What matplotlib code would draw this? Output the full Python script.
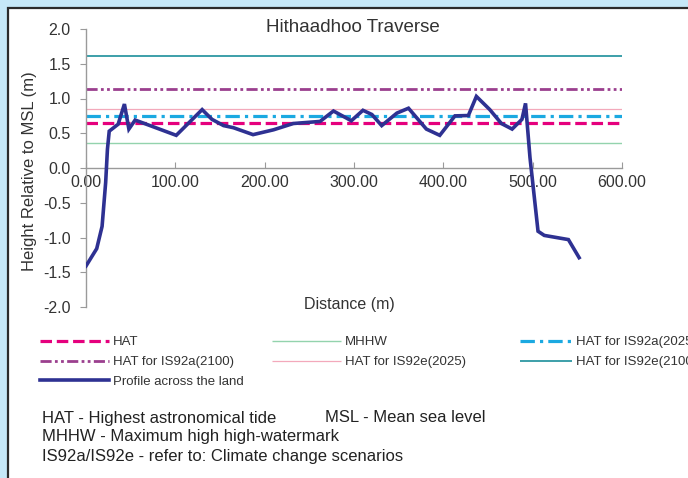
import matplotlib
matplotlib.use("Agg")
import matplotlib.pyplot as plt
from matplotlib.patches import Rectangle

plt.rcParams['font.family'] = ['Liberation Sans', 'DejaVu Sans']
plt.rcParams['axes.unicode_minus'] = False

# ---------------- data ----------------
distance = [0, 12, 18, 22, 24, 26, 36, 43, 48, 55, 101, 130, 141, 154, 165, 187,
            210, 232, 262, 277, 297, 310, 320, 331, 348, 361, 381, 396, 413, 428,
            437, 452, 465, 477, 488, 492, 497, 506, 513, 540, 552]
height = [-1.41, -1.16, -0.84, -0.21, 0.27, 0.53, 0.63, 0.92, 0.56, 0.69, 0.47,
          0.84, 0.70, 0.61, 0.58, 0.48, 0.55, 0.64, 0.67, 0.82, 0.68, 0.83, 0.77,
          0.61, 0.79, 0.86, 0.56, 0.47, 0.75, 0.755, 1.03, 0.84, 0.64, 0.56,
          0.70, 0.93, 0.15, -0.91, -0.97, -1.03, -1.29]

level_names = ["HAT", "MHHW", "HAT for IS92a(2025)", "HAT for IS92a(2100)",
               "HAT for IS92e(2025)", "HAT for IS92e(2100)"]
level_values = [0.65, 0.36, 0.745, 1.13, 0.855, 1.61]
level_span = [0, 600]

x_ticks = [0, 100, 200, 300, 400, 500, 600]
y_ticks = [-2.0, -1.5, -1.0, -0.5, 0.0, 0.5, 1.0, 1.5, 2.0]

notes = ["HAT - Highest astronomical tide", "MSL - Mean sea level",
         "MHHW - Maximum high high-watermark",
         "IS92a/IS92e - refer to: Climate change scenarios"]

# ---------------- styles ----------------
styles = {
    "HAT": dict(color="#e5007d", lw=2.3, dashes=(3.6, 1.5)),
    "MHHW": dict(color="#93d3ad", lw=1.0),
    "HAT for IS92a(2025)": dict(color="#1ba9e1", lw=2.3, dashes=(4.5, 1.6, 1.0, 1.6)),
    "HAT for IS92a(2100)": dict(color="#9b3f8e", lw=2.0, dashes=(4.0, 1.2, 1.0, 1.2, 1.0, 1.2)),
    "HAT for IS92e(2025)": dict(color="#f3a9bb", lw=0.9),
    "HAT for IS92e(2100)": dict(color="#3c9fa9", lw=1.4),
}

W, H = 688, 478
fig = plt.figure(figsize=(W / 100, H / 100), dpi=100, facecolor="#c6e8f8")

# white panel with dark border
fig.add_artist(Rectangle((7.5 / W, -0.01), 1.0, 1 - 7.5 / H + 0.01, transform=fig.transFigure,
                         facecolor="white", edgecolor="#2b2b2b", lw=1.6, zorder=0))

ax = fig.add_axes([86 / W, 1 - 307 / H, (622 - 86) / W, (307 - 29) / H])
ax.set_facecolor("none")

handles = {}
for name, val in zip(level_names, level_values):
    st = dict(styles[name])
    d = st.pop("dashes", None)
    ln, = ax.plot(level_span, [val, val], label=name, solid_capstyle="butt", **st)
    if d is not None:
        ln.set_dashes(d)
    handles[name] = ln

prof, = ax.plot(distance, height, color="#2e3192", lw=2.6, label="Profile across the land",
                solid_joinstyle="miter", zorder=5)
handles["Profile across the land"] = prof

ax.set_xlim(0, 600)
ax.set_ylim(-2, 2)
ax.spines["top"].set_visible(False)
ax.spines["right"].set_visible(False)
ax.spines["bottom"].set_position(("data", 0))
for s in ("left", "bottom"):
    ax.spines[s].set_color("#9a9a9a")
    ax.spines[s].set_linewidth(1.0)

ax.set_xticks(x_ticks)
ax.set_xticklabels([f"{v:.2f}" for v in x_ticks])
ax.set_yticks(y_ticks)
ax.set_yticklabels([f"{v:.1f}" for v in y_ticks])
ax.tick_params(axis="x", direction="in", length=4, color="#9a9a9a", pad=5,
               labelsize=11.5, labelcolor="#333333")
ax.tick_params(axis="y", direction="out", length=4, color="#9a9a9a", pad=7,
               labelsize=11.5, labelcolor="#333333")

fig.text(353 / W, 1 - 28 / H, "Hithaadhoo Traverse", ha="center", va="center",
         fontsize=13.5, color="#333333")
fig.text(349 / W, 1 - 305 / H, "Distance (m)", ha="center", va="center",
         fontsize=11.5, color="#333333")
fig.text(30 / W, 1 - 171 / H, "Height Relative to MSL (m)", ha="center", va="center",
         rotation=90, fontsize=12, color="#333333")

# legend: three columns
cols = [
    (["HAT", "HAT for IS92a(2100)", "Profile across the land"], 40, 5.2),
    (["MHHW", "HAT for IS92e(2025)"], 272, 5.2),
    (["HAT for IS92a(2025)", "HAT for IS92e(2100)"], 520, 3.95),
]
for names, x0, hl in cols:
    fig.legend([handles[n] for n in names], names, loc="upper left",
               bbox_to_anchor=(x0 / W, 1 - 336 / H), frameon=False,
               fontsize=9.5, handlelength=hl, handletextpad=0.3,
               labelspacing=0.58, borderpad=0, borderaxespad=0,
               labelcolor="#333333")

nfs = 12
fig.text(42 / W, 1 - 418 / H, notes[0], ha="left", va="center", fontsize=nfs, color="#222222")
fig.text(325 / W, 1 - 418 / H, notes[1], ha="left", va="center", fontsize=nfs, color="#222222")
fig.text(42 / W, 1 - 437 / H, notes[2], ha="left", va="center", fontsize=nfs, color="#222222")
fig.text(42 / W, 1 - 456 / H, notes[3], ha="left", va="center", fontsize=nfs, color="#222222")

fig.savefig("out.png", dpi=100, facecolor=fig.get_facecolor())
